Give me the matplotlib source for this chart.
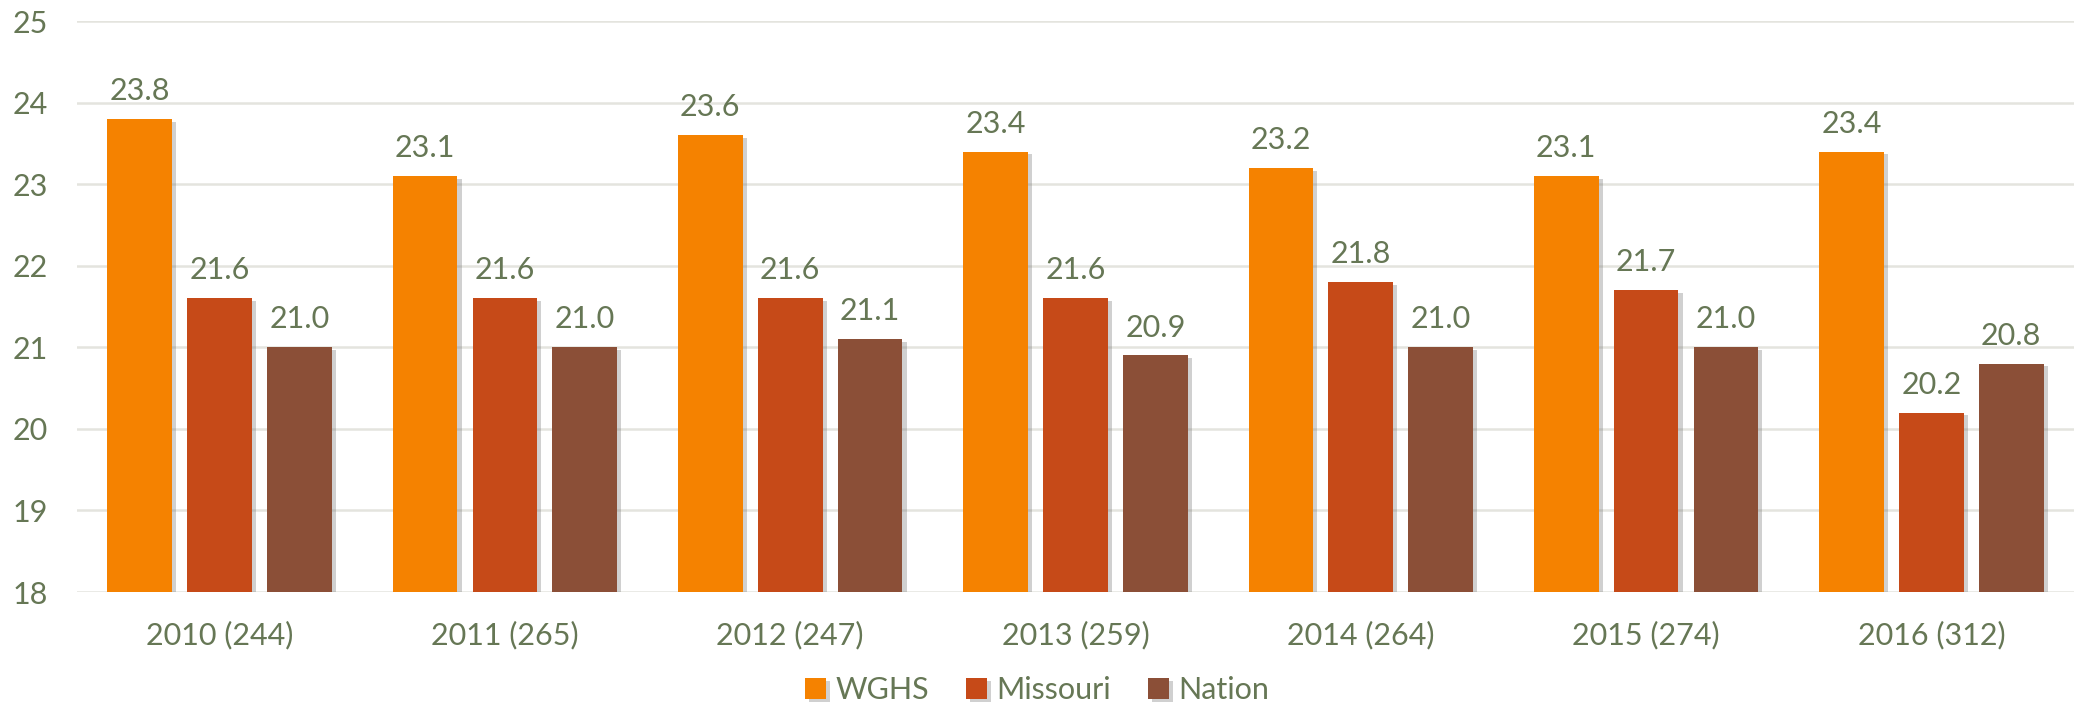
import matplotlib
matplotlib.use("Agg")
import matplotlib.pyplot as plt
import matplotlib.patheffects as pe
import numpy as np

categories = ["2010 (244)", "2011 (265)", "2012 (247)", "2013 (259)", "2014 (264)", "2015 (274)", "2016 (312)"]
wghs = [23.8, 23.1, 23.6, 23.4, 23.2, 23.1, 23.4]
missouri = [21.6, 21.6, 21.6, 21.6, 21.8, 21.7, 20.2]
nation = [21.0, 21.0, 21.1, 20.9, 21.0, 21.0, 20.8]
series_names = ["WGHS", "Missouri", "Nation"]
colors = ["#F58200", "#C64A18", "#8B4F37"]
yticks = [18, 19, 20, 21, 22, 23, 24, 25]

plt.rcParams['font.family'] = ['Lato', 'DejaVu Sans']
text_color = "#667755"
fs = 22

fig = plt.figure(figsize=(20.74, 7.08), dpi=100)
ax = fig.add_axes([0.0371, 0.1638, 0.9629, 0.8065])

x = np.arange(len(categories))
width = 0.227
step = 0.28
shadow = [pe.SimplePatchShadow(offset=(3, -2), shadow_rgbFace="#666666", alpha=0.3), pe.Normal()]
for i, (vals, name, c) in enumerate(zip([wghs, missouri, nation], series_names, colors)):
    pos = x + (i - 1) * step
    bars = ax.bar(pos, np.array(vals) - 18, width, bottom=18, color=c, label=name, zorder=3)
    for b in bars:
        b.set_path_effects(shadow)
    for p, v in zip(pos, vals):
        ax.annotate(f"{v:.1f}", (p, v), xytext=(0, 10), textcoords="offset points",
                    ha="center", va="bottom", fontsize=fs, color=text_color)

ax.set_ylim(18, 25)
ax.set_xlim(-0.5, len(categories) - 0.5)
ax.set_yticks(yticks)
ax.set_xticks(x)
ax.set_xticklabels(categories)
ax.grid(axis="y", color="#E4E4DE", linewidth=1.8, zorder=0)
ax.set_axisbelow(True)
for s in ax.spines.values():
    s.set_visible(False)
ax.tick_params(axis="both", length=0, labelsize=fs, labelcolor=text_color)
ax.tick_params(axis="y", pad=21)
ax.tick_params(axis="x", pad=21)

leg = fig.legend(loc="center", bbox_to_anchor=(0.5, 0.025), ncol=3, frameon=False,
                 fontsize=fs, handlelength=0.7, handleheight=0.7, handletextpad=0.3,
                 columnspacing=1.2)
for t in leg.get_texts():
    t.set_color(text_color)

fig.savefig("out.png", dpi=100)
